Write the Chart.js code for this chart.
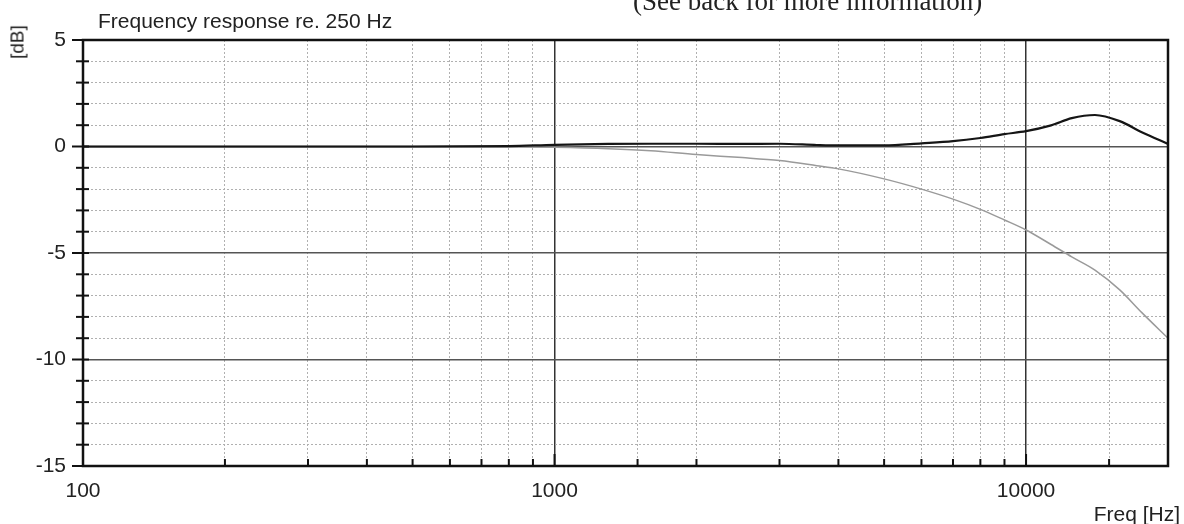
<!DOCTYPE html>
<html>
<head>
<meta charset="utf-8">
<script src="https://cdn.jsdelivr.net/npm/chart.js@4/dist/chart.umd.min.js"></script>
<style>
  body { margin: 0; background: #fff; }
  #wrap { position: relative; width: 1184px; height: 524px; overflow: hidden; }
  #wrap canvas { position: absolute; left: 0; top: 0; }
  .txt { position: absolute; font-family: "Liberation Sans", Arial, sans-serif; font-size: 21px; line-height: 21px; color: #222; white-space: nowrap; }
  #note { font-family: "Liberation Serif", "Times New Roman", serif; font-size: 27px; line-height: 27px; left: 633px; top: -12px; }
  #title { left: 98px; top: 10px; }
  #xtitle { right: 4px; top: 503px; }
  #ytitle { left: 17px; top: 42px; font-size: 19px; transform: translate(-50%, -50%) rotate(-90deg); }
</style>
</head>
<body>
<div id="wrap">
  <canvas id="chart" width="1184" height="524"></canvas>
  <div class="txt" id="note">(See back for more information)</div>
  <div class="txt" id="title">Frequency response re. 250 Hz</div>
  <div class="txt" id="xtitle">Freq [Hz]</div>
  <div class="txt" id="ytitle">[dB]</div>
</div>
<script>
    // Values (Hz, dB)
    const freqs = [100, 200, 500, 800, 1000, 1300, 1600, 2000, 2500, 3000, 3600, 4000, 5000, 6000, 7000, 8000, 9000, 10000, 11300, 12500, 14000, 15800, 17600, 20000];
    const measured = [0, 0, 0, 0.02, 0.08, 0.12, 0.13, 0.13, 0.12, 0.13, 0.07, 0.05, 0.05, 0.15, 0.25, 0.4, 0.58, 0.72, 0.99, 1.33, 1.48, 1.19, 0.67, 0.12];
    const reference = [0, 0, 0, 0, -0.03, -0.1, -0.2, -0.38, -0.52, -0.66, -0.9, -1.05, -1.52, -2.0, -2.47, -2.95, -3.45, -3.92, -4.6, -5.18, -5.8, -6.73, -7.8, -9.0];
    const xLabels = [100, 1000, 10000];
    const yLabels = [5, 0, -5, -10, -15];

    const isDecade = v => Math.abs(Math.log10(v) - Math.round(Math.log10(v))) < 1e-6;

    // frame and tick marks like the original plotter output
    const framePlugin = {
        id: 'frame',
        afterDraw(chart) {
            const ctx = chart.ctx;
            const area = chart.chartArea;
            const xs = chart.scales.x;
            const ys = chart.scales.y;
            ctx.save();
            ctx.strokeStyle = '#111';
            ctx.lineWidth = 2;
            xs.ticks.forEach(t => {
                const x = xs.getPixelForValue(t.value);
                const len = isDecade(t.value) ? 12 : 7;
                ctx.beginPath();
                ctx.moveTo(x, area.bottom);
                ctx.lineTo(x, area.bottom - len);
                ctx.stroke();
            });
            ys.ticks.forEach(t => {
                const y = ys.getPixelForValue(t.value);
                const out = yLabels.includes(t.value) ? 11 : 7;
                ctx.beginPath();
                ctx.moveTo(area.left - out, y);
                ctx.lineTo(area.left + 6, y);
                ctx.stroke();
            });
            ctx.lineWidth = 2.5;
            ctx.strokeRect(area.left, area.top, area.right - area.left, area.bottom - area.top);
            ctx.restore();
        }
    };

    const ctx = document.getElementById('chart').getContext('2d');
    new Chart(ctx, {
        type: 'line',
        data: {
            datasets: [
                {
                    label: 'Measured',
                    data: freqs.map((f, i) => ({ x: f, y: measured[i] })),
                    borderColor: '#151515',
                    borderWidth: 2.2,
                    pointRadius: 0,
                    cubicInterpolationMode: 'monotone'
                },
                {
                    label: 'Reference',
                    data: freqs.map((f, i) => ({ x: f, y: reference[i] })),
                    borderColor: '#9a9a9a',
                    borderWidth: 1.5,
                    pointRadius: 0,
                    cubicInterpolationMode: 'monotone'
                }
            ]
        },
        options: {
            responsive: false,
            animation: false,
            layout: { padding: { left: 0, right: 16, top: 40, bottom: 0 } },
            plugins: {
                legend: { display: false },
                tooltip: { enabled: false }
            },
            scales: {
                x: {
                    type: 'logarithmic',
                    min: 100,
                    max: 20000,
                    afterFit(scale) { scale.height = 58; },
                    border: {
                        display: false,
                        dash: c => (c.tick && !isDecade(c.tick.value)) ? [2, 2] : []
                    },
                    grid: {
                        drawTicks: false,
                        color: c => (c.tick && isDecade(c.tick.value)) ? '#333' : '#b0b0b0',
                        lineWidth: c => (c.tick && isDecade(c.tick.value)) ? 1.5 : 1
                    },
                    ticks: {
                        autoSkip: false,
                        maxRotation: 0,
                        padding: 13,
                        color: '#222',
                        font: { family: '"Liberation Sans", Arial, sans-serif', size: 21 },
                        callback: v => xLabels.includes(v) ? String(v) : ''
                    }
                },
                y: {
                    min: -15,
                    max: 5,
                    afterFit(scale) { scale.width = 83; },
                    border: {
                        display: false,
                        dash: c => (c.tick && !yLabels.includes(c.tick.value)) ? [2, 2] : []
                    },
                    grid: {
                        drawTicks: false,
                        color: c => (c.tick && yLabels.includes(c.tick.value)) ? '#555' : '#b0b0b0',
                        lineWidth: c => (c.tick && yLabels.includes(c.tick.value)) ? 1.5 : 1
                    },
                    ticks: {
                        stepSize: 1,
                        maxTicksLimit: 30,
                        autoSkip: false,
                        padding: 17,
                        color: '#222',
                        font: { family: '"Liberation Sans", Arial, sans-serif', size: 21 },
                        callback: v => yLabels.includes(v) ? String(v) : ''
                    }
                }
            }
        },
        plugins: [framePlugin]
    });
</script>
</body>
</html>
